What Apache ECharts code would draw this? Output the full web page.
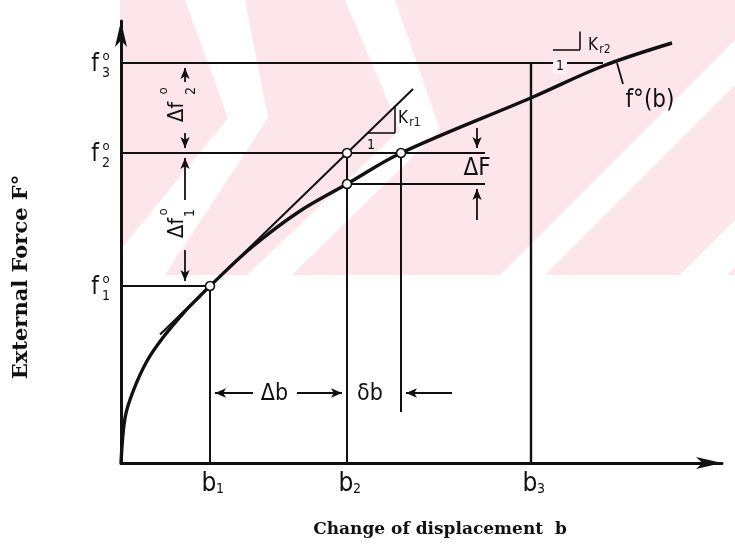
<!DOCTYPE html>
<html>
<head>
<meta charset="utf-8">
<script src="https://cdn.jsdelivr.net/npm/echarts@6/dist/echarts.min.js"></script>
<style>
  html, body { margin: 0; padding: 0; background: #fff; }
  #chart { width: 735px; height: 545px; }
</style>
</head>
<body>
<div id="chart"></div>
<script>
// Load–displacement curve f°(b): displacement b against external force F°
const curveB = [0, 0.8, 2.4, 5.2, 8.4, 12.4, 15.8, 17.8, 26.2, 35.8, 45.2, 56, 82.4, 96.4, 110.2];
const curveF = [0, 9, 14.3, 20.4, 25.1, 29.9, 33.4, 35.4, 43.2, 50.4, 55.8, 62, 73.2, 79.4, 84];

// Load steps f1°, f2°, f3° and the displacements b1, b2, b3
const forceLevels = [35.4, 62, 80];
const forceIndex = ['1', '2', '3'];
const dispMarks = [17.8, 45.2, 82];
const dispIndex = ['1', '2', '3'];

// Displacement where the curve really reaches f2°, and the curve value at b2
const bAtF2 = 56;
const fAtB2 = 55.8;

// Tangent stiffness lines Kr1 (at f1°) and Kr2 (at f2°)
const tangentKr1 = [[7.8, 25.7], [58.4, 74.8]];
const tangentKr2 = [[53.4, 60.2], [95, 88.5]];

const INK = '#111111';
const SANS = '"DejaVu Sans Condensed", "Liberation Sans Narrow", "DejaVu Sans", sans-serif';
const SERIF = '"DejaVu Serif", "Liberation Serif", serif';

// ---------------------------------------------------------------- helpers
function onLine(seg, x) {
  const [[x1, y1], [x2, y2]] = seg;
  return y1 + (y2 - y1) * (x - x1) / (x2 - x1);
}
function seg(a, b, width, arrowEnd) {
  return [
    { coord: a, symbol: 'none' },
    { coord: b, symbol: arrowEnd ? 'arrow' : 'none', symbolSize: [7, 11],
      lineStyle: { color: INK, width: width, type: 'solid' } }
  ];
}
const annotations = [];
function put(x, y, text, size, dx, dy, more) {
  annotations.push({
    value: [x, y],
    label: Object.assign({
      show: true, position: 'inside', formatter: text, offset: [dx, dy],
      fontSize: size, fontFamily: SANS, color: INK, opacity: 1
    }, more || {})
  });
}

const [f1, f2, f3] = forceLevels;
const [b1, b2, b3] = dispMarks;
const rightEnd = 72.8;     // right end of the ΔF bracket lines
const arrowX = 12.8;       // column of the Δf° arrows
const bracketX = 71.2;     // column of the ΔF arrows
const dimY = 14;           // row of the Δb / δb arrows

// slope triangles on both tangents
const k1a = 49.4, k1b = 54.8, k2a = 86.4, k2b = 91.8;
const k1y = onLine(tangentKr1, k1a), k1top = onLine(tangentKr1, k1b);
const k2y = onLine(tangentKr2, k2a), k2top = onLine(tangentKr2, k2b);

const segments = [
  // load levels
  seg([0, f1], [b1, f1], 2),
  seg([0, f2], [rightEnd, f2], 2),
  seg([0, f3], [curveB[13], f3], 2),
  seg([b2, fAtB2], [rightEnd, fAtB2], 2),
  // displacement verticals
  seg([b1, 0], [b1, f1], 2),
  seg([b2, 0], [b2, f2], 2),
  seg([bAtF2, f2], [bAtF2, 10.2], 2),
  seg([b3, 0], [b3, f3], 2.4),
  // tangents
  seg(tangentKr1[0], tangentKr1[1], 2),
  seg(tangentKr2[0], tangentKr2[1], 2),
  // slope triangles
  seg([k1a, k1y], [k1b, k1y], 1.6),
  seg([k1b, k1y], [k1b, k1top], 1.6),
  seg([k2a, k2y], [k2b, k2y], 1.6),
  seg([k2b, k2y], [k2b, k2top], 1.6),
  // leader of the curve name
  seg([99.2, f3], [100.4, 75.8], 1.8),
  // Δf° dimension arrows
  seg([arrowX, 76.2], [arrowX, f3 - 1], 1.8, true),
  seg([arrowX, 66], [arrowX, f2 + 1], 1.8, true),
  seg([arrowX, 52.6], [arrowX, f2 - 1], 1.8, true),
  seg([arrowX, 42.6], [arrowX, f1 + 1], 1.8, true),
  // ΔF dimension arrows
  seg([bracketX, 67], [bracketX, f2 + 1], 1.8, true),
  seg([bracketX, 48.6], [bracketX, fAtB2 - 1], 1.8, true),
  // Δb and δb dimension arrows
  seg([26.4, dimY], [b1 + 1, dimY], 1.8, true),
  seg([35.2, dimY], [b2 - 1, dimY], 1.8, true),
  seg([66.2, dimY], [bAtF2 + 1, dimY], 1.8, true)
];

// ---------------------------------------------------------------- labels
forceLevels.forEach((f, i) => {
  put(0, f, 'f', 24, -26, 2);
  put(0, f, 'o', 13, -15, -6);
  put(0, f, forceIndex[i], 14, -15, 10);
});
dispMarks.forEach((b, i) => {
  put(b, 0, 'b', 26, -1, 21);
  put(b, 0, dispIndex[i], 14, 10, 26);
});
put(bracketX, (f2 + fAtB2) / 2, 'ΔF', 24, 0, 0);
put((b1 + b2) / 2, dimY, 'Δb', 23, -4, 1);
put((b2 + bAtF2) / 2, dimY, 'δb', 23, -4, 1);
put(k1b, k1top, 'K', 17, 8, 12);
put(k1b, k1top, 'r1', 12, 20, 16);
put(k2b, k2top, 'K', 17, 13, 14);
put(k2b, k2top, 'r2', 12, 25, 18);
put(k1a, k1y, '1', 14, 3, 13);
put(k2a, k2y, '1', 14, 7, 17, { backgroundColor: '#fdf3f5', padding: [0, 3] });
put(100.4, 75.8, 'f°(b)', 24, 27, 17);
// rotated Δf° dimension texts
put(11.2, 70.2, 'Δf', 22, 0, 0, { rotate: 90 });
put(8.6, 74.4, 'o', 13, 0, 0, { rotate: 90 });
put(14, 74.4, '2', 14, 0, 0, { rotate: 90 });
put(11.2, 47, 'Δf', 22, 0, 0, { rotate: 90 });
put(8.6, 50.2, 'o', 13, 0, 0, { rotate: 90 });
put(13.8, 50, '1', 14, 0, 0, { rotate: 90 });
// axis titles
put(b2, 0, 'Change of displacement  b', 17, 93, 67,
  { fontFamily: SERIF, fontWeight: 'bold' });
put(-19.8, 37.2, 'External Force F°', 21, 0, 0,
  { fontFamily: SERIF, fontWeight: 'bold', rotate: 90 });

// points marked on the curve and tangent
const markedPoints = [[b1, f1], [b2, f2], [b2, fAtB2], [bAtF2, f2]];

// ---------------------------------------------------------------- faint background print
const PINK = '#fce6ea';
const stripes = [
  [[120, 0], [735, 0], [735, 275], [120, 275]]
];
const whites = [
  [[185, 0], [245, 0], [268, 118], [165, 275], [120, 275], [120, 250], [228, 118]],
  [[345, 0], [395, 0], [440, 130], [292, 275], [247, 275], [400, 130]],
  [[500, 275], [545, 275], [820, 0], [775, 0]],
  [[680, 275], [727, 275], [1002, 0], [955, 0]]
];
const graphic = stripes.map(p => ({ type: 'polygon', z: -10, silent: true,
  shape: { points: p }, style: { fill: PINK } }))
  .concat(whites.map(p => ({ type: 'polygon', z: -9, silent: true,
    shape: { points: p }, style: { fill: '#ffffff' } })));

// ---------------------------------------------------------------- chart
const chart = echarts.init(document.getElementById('chart'));
const axisCommon = {
  type: 'value', min: 0,
  axisLine: { show: true, symbol: ['none', 'arrow'], symbolSize: [9, 26],
    lineStyle: { color: INK, width: 3 } },
  axisTick: { show: false }, axisLabel: { show: false }, splitLine: { show: false }
};
chart.setOption({
  animation: false,
  backgroundColor: '#ffffff',
  graphic: graphic,
  grid: { left: 121, right: 13, top: 21, bottom: 82, containLabel: false },
  xAxis: Object.assign({}, axisCommon, { max: 120.2 }),
  yAxis: Object.assign({}, axisCommon, { max: 88.4 }),
  series: [
    {
      name: 'f°(b)', type: 'line', clip: false, silent: true,
      data: curveB.map((b, i) => [b, curveF[i]]),
      smooth: 0.35, showSymbol: false,
      lineStyle: { color: INK, width: 3.4, opacity: 1 },
      markLine: {
        silent: true, symbol: ['none', 'none'], label: { show: false },
        lineStyle: { color: INK, width: 2, type: 'solid', opacity: 1 },
        emphasis: { disabled: true },
        data: segments
      },
      z: 3
    },
    {
      name: 'points', type: 'scatter', silent: true, clip: false,
      data: markedPoints, symbol: 'circle', symbolSize: 9,
      itemStyle: { color: '#ffffff', borderColor: INK, borderWidth: 1.6, opacity: 1 },
      z: 5
    },
    {
      name: 'labels', type: 'scatter', silent: true, clip: false,
      data: annotations, symbolSize: 0, itemStyle: { opacity: 1 }, z: 6
    }
  ]
});
</script>
</body>
</html>
